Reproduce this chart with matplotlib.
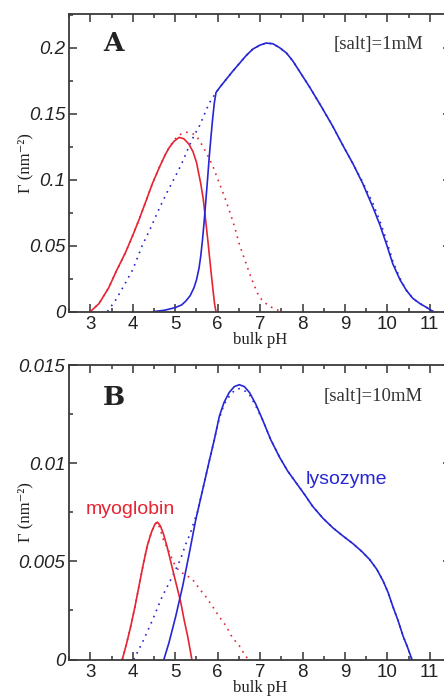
import matplotlib
matplotlib.use("Agg")
import matplotlib.pyplot as plt
from matplotlib.ticker import MultipleLocator

# ---- panel A, [salt] = 1 mM ----
ph_myo_a = [3.0, 3.2, 3.43, 3.6, 3.83, 4.0, 4.15, 4.3, 4.46, 4.62, 4.75, 4.85, 4.97,
            5.09, 5.2, 5.32, 5.42, 5.5, 5.6, 5.66, 5.72, 5.78, 5.84, 5.9, 5.93, 5.96]
g_myo_a = [0, 0.006, 0.018, 0.030, 0.045, 0.058, 0.070, 0.083, 0.097, 0.109, 0.118, 0.124, 0.129,
           0.132, 0.131, 0.127, 0.121, 0.113, 0.097, 0.085, 0.068, 0.050, 0.031, 0.013, 0.005, 0.0]

ph_myo_a_dot = [3.0, 3.2, 3.43, 3.6, 3.83, 4.0, 4.15, 4.3, 4.46, 4.62, 4.75, 4.85, 4.97, 5.1,
                5.25, 5.4, 5.5, 5.6, 5.72, 5.8, 5.9, 6.04, 6.15, 6.27, 6.4, 6.51, 6.63, 6.75,
                6.87, 6.98, 7.1, 7.22, 7.35, 7.5]
g_myo_a_dot = [0, 0.006, 0.018, 0.030, 0.045, 0.058, 0.070, 0.083, 0.097, 0.109, 0.118, 0.124, 0.130, 0.134,
               0.136, 0.135, 0.133, 0.128, 0.121, 0.116, 0.109, 0.097, 0.088, 0.077, 0.064, 0.051, 0.040, 0.029,
               0.019, 0.011, 0.007, 0.004, 0.002, 0.0]

ph_lys_a = [4.5, 4.75, 5.0, 5.15, 5.25, 5.35, 5.44, 5.5, 5.56, 5.6, 5.64, 5.68, 5.72, 5.76, 5.8,
            5.84, 5.88, 5.92, 5.96, 6.05, 6.2, 6.35, 6.51, 6.67, 6.83, 7.0, 7.14, 7.3, 7.46, 7.62,
            7.77, 7.95, 8.17, 8.45, 8.72, 8.95, 9.19, 9.42, 9.66, 9.82, 9.98, 10.13, 10.3, 10.45,
            10.6, 10.77, 10.93, 11.08]
g_lys_a = [0, 0.001, 0.003, 0.005, 0.008, 0.012, 0.018, 0.024, 0.033, 0.042, 0.054, 0.068, 0.084, 0.100, 0.117,
           0.132, 0.146, 0.158, 0.166, 0.170, 0.176, 0.182, 0.188, 0.194, 0.199, 0.202, 0.2035, 0.203, 0.200, 0.196,
           0.190, 0.181, 0.170, 0.155, 0.140, 0.126, 0.112, 0.097, 0.079, 0.066, 0.051, 0.036, 0.024, 0.016,
           0.010, 0.006, 0.003, 0.0]

ph_lys_a_dot = [3.4, 3.6, 3.83, 4.0, 4.22, 4.4, 4.62, 4.8, 5.01, 5.15, 5.32, 5.45, 5.56, 5.68, 5.8,
                5.92, 5.96, 6.05, 6.2, 6.35, 6.51, 6.67, 6.83, 7.0, 7.14, 7.3, 7.46, 7.62,
                7.77, 7.95, 8.17, 8.45, 8.72, 8.95, 9.19, 9.42, 9.66, 9.82, 9.98, 10.13, 10.3, 10.45,
                10.6, 10.77, 10.93, 11.08]
g_lys_a_dot = [0, 0.009, 0.022, 0.032, 0.050, 0.062, 0.078, 0.090, 0.103, 0.112, 0.125, 0.134, 0.140, 0.149, 0.158,
               0.164, 0.166, 0.170, 0.176, 0.182, 0.188, 0.194, 0.199, 0.202, 0.2035, 0.203, 0.200, 0.196,
               0.190, 0.181, 0.170, 0.155, 0.140, 0.126, 0.112, 0.098, 0.082, 0.069, 0.054, 0.038, 0.025, 0.016,
               0.010, 0.006, 0.003, 0.0]

# ---- panel B, [salt] = 10 mM ----
ph_myo_b = [3.75, 3.85, 3.95, 4.05, 4.14, 4.24, 4.34, 4.44, 4.52, 4.58, 4.65, 4.72, 4.8, 4.88,
            4.97, 5.05, 5.13, 5.21, 5.29, 5.35, 5.39]
g_myo_b = [0, 0.0008, 0.0017, 0.0027, 0.0037, 0.0048, 0.0058, 0.0065, 0.0069, 0.0070, 0.0068, 0.0064, 0.0058,
           0.0051, 0.0043, 0.0036, 0.0029, 0.0020, 0.0012, 0.0005, 0.0]

ph_myo_b_dot = [3.75, 3.85, 3.95, 4.05, 4.14, 4.24, 4.34, 4.44, 4.52, 4.58, 4.65, 4.72, 4.85, 4.97,
                5.09, 5.25, 5.4, 5.57, 5.72, 5.88, 6.03, 6.2, 6.35, 6.51, 6.62, 6.72]
g_myo_b_dot = [0, 0.0008, 0.0017, 0.0027, 0.0037, 0.0048, 0.0058, 0.0065, 0.0069, 0.0070, 0.0066, 0.0061,
               0.0055, 0.0049, 0.0045, 0.0043, 0.0041, 0.0036, 0.0032, 0.0027, 0.0022, 0.0017, 0.0011,
               0.0007, 0.0003, 0.0]

ph_lys_b = [4.73, 4.85, 5.01, 5.17, 5.32, 5.48, 5.64, 5.8, 5.92, 6.04, 6.15, 6.27, 6.39, 6.51, 6.63,
            6.75, 6.9, 7.06, 7.25, 7.46, 7.65, 7.85, 8.05, 8.24, 8.48, 8.72, 8.95, 9.19, 9.4, 9.58,
            9.75, 9.9, 10.02, 10.13, 10.25, 10.37, 10.48, 10.58]
g_lys_b = [0, 0.00085, 0.0022, 0.0037, 0.0053, 0.0071, 0.0086, 0.0101, 0.0112, 0.0124, 0.0131, 0.0136, 0.0139,
           0.0140, 0.0139, 0.0136, 0.0130, 0.0122, 0.0112, 0.0103, 0.0096, 0.0090, 0.0084, 0.0078, 0.0072,
           0.0067, 0.0063, 0.0059, 0.0055, 0.0051, 0.0046, 0.0040, 0.0034, 0.0027, 0.0020, 0.0012, 0.0006, 0.0]

ph_lys_b_dot = [4.02, 4.22, 4.46, 4.69, 4.97, 5.12, 5.25, 5.35, 5.44, 5.52, 5.64, 5.8, 5.92, 6.04, 6.15,
                6.27, 6.39, 6.51, 6.63, 6.75, 6.9, 7.06, 7.25, 7.46, 7.65, 7.85, 8.05, 8.24, 8.48, 8.72,
                8.95, 9.19, 9.4, 9.58, 9.75, 9.9, 10.02, 10.13, 10.25, 10.37, 10.48, 10.58]
g_lys_b_dot = [0, 0.00085, 0.0020, 0.0032, 0.0044, 0.0051, 0.0059, 0.0064, 0.0070, 0.0075, 0.0086, 0.0101,
               0.0112, 0.0123, 0.0130, 0.0134, 0.0137, 0.0138, 0.0137, 0.0135, 0.0129, 0.0122, 0.0112,
               0.0103, 0.0096, 0.0090, 0.0084, 0.0078, 0.0072, 0.0067, 0.0063, 0.0059, 0.0055, 0.0051,
               0.0046, 0.0040, 0.0034, 0.0027, 0.0020, 0.0012, 0.0006, 0.0]

x_ticks = [3, 4, 5, 6, 7, 8, 9, 10, 11]
y_ticks_a = [0, 0.05, 0.1, 0.15, 0.2]
y_labels_a = ["0", "0.05", "0.1", "0.15", "0.2"]
y_ticks_b = [0, 0.005, 0.01, 0.015]
y_labels_b = ["0", "0.005", "0.01", "0.015"]

RED = "#e52532"
BLUE = "#2626d6"
DOTS = (0, (1, 3))
SANS = "Liberation Sans"
SERIF = ["Liberation Serif", "DejaVu Serif"]

fig = plt.figure(figsize=(4.44, 6.96), dpi=100)
ax_a = fig.add_axes([0.156, 0.5524, 0.8597, 0.4274])
ax_b = fig.add_axes([0.156, 0.0524, 0.8597, 0.4231])


def style_axes(ax, yticks, ylabels, ymax, ymin_step):
    ax.set_xlim(2.5, 11.5)
    ax.set_ylim(0, ymax)
    ax.set_xticks(x_ticks, [str(t) for t in x_ticks], family=SANS, fontsize=13.5, color="#222222")
    ax.set_yticks(yticks, ylabels, family=SANS, fontsize=13.5, fontstyle="italic", color="#222222")
    ax.xaxis.set_minor_locator(MultipleLocator(0.5))
    ax.yaxis.set_minor_locator(MultipleLocator(ymin_step))
    ax.tick_params(which="both", direction="in", top=True, right=True, width=1.1, color="#333333")
    ax.tick_params(which="major", length=6, pad=3)
    ax.tick_params(which="minor", length=3)
    for s in ax.spines.values():
        s.set_linewidth(1.3)
        s.set_color("#3a3a3a")
    ax.set_xlabel("bulk pH", family=SERIF, fontsize=12, color="#222222")
    ax.xaxis.set_label_coords(0.5, -0.07)
    ax.set_ylabel("Γ (nm⁻²)", family=SERIF, fontsize=12, color="#222222")
    ax.yaxis.set_label_coords(-0.095, 0.5)


# panel A
ax_a.plot(ph_myo_a_dot, g_myo_a_dot, color=RED, lw=1.2, ls=DOTS)
ax_a.plot(ph_lys_a_dot, g_lys_a_dot, color=BLUE, lw=1.2, ls=DOTS)
ax_a.plot(ph_myo_a, g_myo_a, color=RED, lw=1.2)
ax_a.plot(ph_lys_a, g_lys_a, color=BLUE, lw=1.2)
style_axes(ax_a, y_ticks_a, y_labels_a, 0.2255, 0.025)
ax_a.text(0.115, 0.9025, "A", transform=ax_a.transAxes, ha="center", va="center",
          family="DejaVu Serif", fontweight="bold", fontsize=19, color="#222222")
ax_a.text(0.811, 0.896, "[salt]=1mM", transform=ax_a.transAxes, ha="center", va="center",
          family=SERIF, fontsize=13.5, color="#333333")

# panel B
ax_b.plot(ph_myo_b_dot, g_myo_b_dot, color=RED, lw=1.2, ls=DOTS)
ax_b.plot(ph_lys_b_dot, g_lys_b_dot, color=BLUE, lw=1.2, ls=DOTS)
ax_b.plot(ph_myo_b, g_myo_b, color=RED, lw=1.2)
ax_b.plot(ph_lys_b, g_lys_b, color=BLUE, lw=1.2)
style_axes(ax_b, y_ticks_b, y_labels_b, 0.015, 0.0025)
ax_b.text(0.117, 0.891, "B", transform=ax_b.transAxes, ha="center", va="center",
          family="DejaVu Serif", fontweight="bold", fontsize=19, color="#222222")
ax_b.text(0.797, 0.892, "[salt]=10mM", transform=ax_b.transAxes, ha="center", va="center",
          family=SERIF, fontsize=13.5, color="#333333")
ax_b.text(3.95, 0.00762, "myoglobin", ha="center", va="center", family=SANS, fontsize=14, color=RED)
ax_b.text(9.04, 0.00915, "lysozyme", ha="center", va="center", family=SANS, fontsize=14, color=BLUE)

fig.savefig("out.png", dpi=100)
